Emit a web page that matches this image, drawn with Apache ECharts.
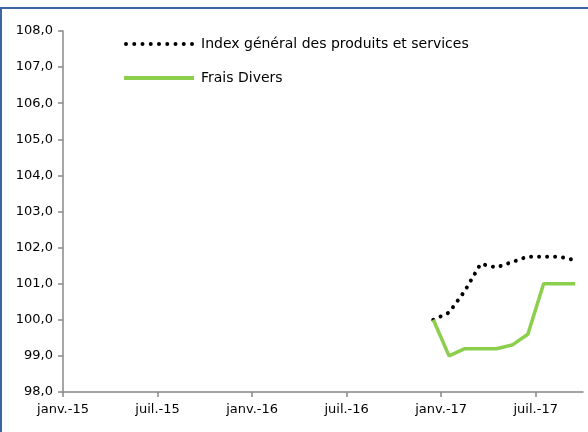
<!DOCTYPE html>
<html>
<head>
<meta charset="utf-8">
<script src="https://cdn.jsdelivr.net/npm/echarts@6/dist/echarts.min.js"></script>
<style>
  html, body { margin: 0; padding: 0; background: #fff; }
  #frame {
    position: absolute; left: 0; top: 7px; width: 586px; height: 425px;
    border-left: 2px solid #3d65a3; border-top: 2px solid #3d65a3;
  }
  #chart { position: absolute; left: 0; top: 0; width: 588px; height: 432px; }
</style>
</head>
<body>
<div id="frame"></div>
<div id="chart"></div>
<script>
// mois (index depuis janv.-15) et valeurs
var tickLabels = ['janv.-15', 'juil.-15', 'janv.-16', 'juil.-16', 'janv.-17', 'juil.-17'];
var tickMonths = [0, 6, 12, 18, 24, 30];
var months = [23, 24, 25, 26, 27, 28, 29, 30, 31, 32]; // déc.-16 .. sept.-17
var indexGeneral = [100.0, 100.2, 100.8, 101.55, 101.45, 101.6, 101.75, 101.75, 101.75, 101.65];
var fraisDivers = [100.0, 99.0, 99.2, 99.2, 99.2, 99.3, 99.6, 101.0, 101.0, 101.0];

function pairs(vals) {
  // points placés au milieu du mois
  return vals.map(function (v, i) { return [months[i] + 0.5, v]; });
}

// icônes de légende : 9 points / un trait plein
var dotsIcon = 'path://';
for (var k = 0; k < 9; k++) {
  var x0 = k * 8.25;
  dotsIcon += 'M' + (x0 + 2) + ' 0A2 2 0 1 1 ' + (x0 + 2) + ' 4A2 2 0 1 1 ' + (x0 + 2) + ' 0Z';
}
var barIcon = 'path://M0 0H70V4H0Z';

var font = 'DejaVu Sans';
var chart = echarts.init(document.getElementById('chart'));
chart.setOption({
  animation: false,
  textStyle: { fontFamily: font },
  grid: { left: 63, right: 5, top: 31, bottom: 40 },
  legend: {
    orient: 'vertical',
    left: 119,
    top: 32,
    itemWidth: 70,
    itemHeight: 4,
    itemGap: 20,
    textStyle: { fontFamily: font, fontSize: 14, color: '#000', padding: [0, 0, 0, 2] },
    data: [
      { name: 'Index général des produits et services', icon: dotsIcon },
      { name: 'Frais Divers', icon: barIcon }
    ]
  },
  xAxis: {
    type: 'value',
    min: 0,
    max: 33,
    splitLine: { show: false },
    axisLine: { lineStyle: { color: '#888', width: 1.5 } },
    axisTick: { length: 5, lineStyle: { color: '#888', width: 1.5 }, customValues: tickMonths },
    axisLabel: {
      customValues: tickMonths,
      fontFamily: font, fontSize: 13, color: '#000', margin: 11,
      formatter: function (v) { return tickLabels[tickMonths.indexOf(v)] || ''; }
    }
  },
  yAxis: {
    type: 'value',
    min: 98,
    max: 108,
    interval: 1,
    splitLine: { show: false },
    axisLine: { show: true, lineStyle: { color: '#888', width: 1.5 } },
    axisTick: { show: true, length: 5, lineStyle: { color: '#888', width: 1.5 } },
    axisLabel: {
      fontFamily: font, fontSize: 13, color: '#000', margin: 10,
      formatter: function (v) { return v.toFixed(1).replace('.', ','); }
    }
  },
  series: [
    {
      name: 'Index général des produits et services',
      type: 'line',
      symbol: 'none',
      lineStyle: { color: '#000', width: 4, type: [0.01, 8], cap: 'round' },
      itemStyle: { color: '#000' },
      data: pairs(indexGeneral)
    },
    {
      name: 'Frais Divers',
      type: 'line',
      symbol: 'none',
      lineStyle: { color: '#8ccf4d', width: 3.5 },
      itemStyle: { color: '#8ccf4d' },
      data: pairs(fraisDivers)
    }
  ]
});
</script>
</body>
</html>
